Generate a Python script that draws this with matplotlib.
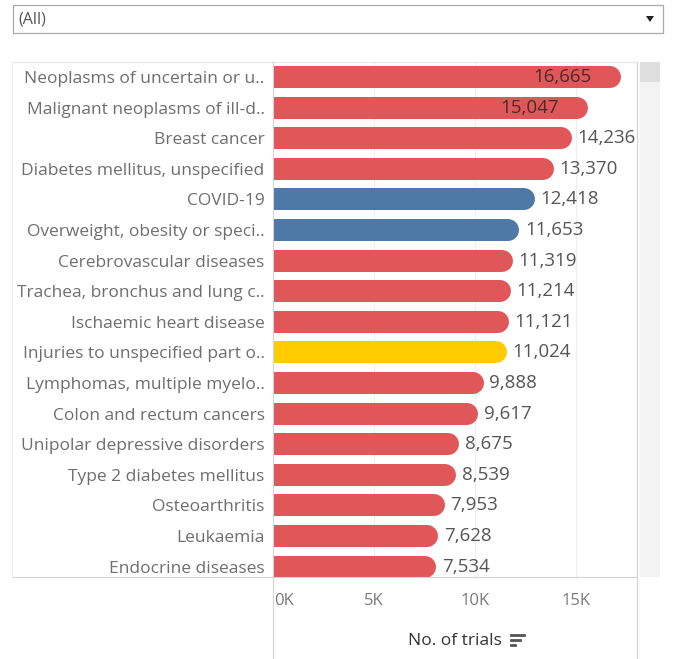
import matplotlib

matplotlib.use("Agg")
import matplotlib.pyplot as plt
from matplotlib.patches import Rectangle, Polygon
from matplotlib.lines import Line2D

W, H = 673, 659

diseases = [
    "Neoplasms of uncertain or u..",
    "Malignant neoplasms of ill-d..",
    "Breast cancer",
    "Diabetes mellitus, unspecified",
    "COVID-19",
    "Overweight, obesity or speci..",
    "Cerebrovascular diseases",
    "Trachea, bronchus and lung c..",
    "Ischaemic heart disease",
    "Injuries to unspecified part o..",
    "Lymphomas, multiple myelo..",
    "Colon and rectum cancers",
    "Unipolar depressive disorders",
    "Type 2 diabetes mellitus",
    "Osteoarthritis",
    "Leukaemia",
    "Endocrine diseases",
]
trials = [16665, 15047, 14236, 13370, 12418, 11653, 11319, 11214, 11121,
          11024, 9888, 9617, 8675, 8539, 7953, 7628, 7534]
groups = ["ncd", "ncd", "ncd", "ncd", "infect", "infect", "ncd", "ncd", "ncd",
          "injury", "ncd", "ncd", "ncd", "ncd", "ncd", "ncd", "ncd"]
ticks = [0, 5000, 10000, 15000]
tick_labels = ["0K", "5K", "10K", "15K"]

palette = {"ncd": "#e15759", "infect": "#4e79a7", "injury": "#ffcc00"}

plt.rcParams["font.family"] = ["Open Sans", "DejaVu Sans"]


def fx(x):
    return x / W


def fy(y):
    return 1 - y / H


fig = plt.figure(figsize=(W / 100, H / 100), dpi=100, facecolor="white")

# axes placed in pixel terms: x 273..637, y 62..577 (from top)
ax = fig.add_axes([fx(273), fy(577), (637 - 273) / W, (577 - 62) / H])
ax.set_xlim(0, 18020)
row_gap = 30.6
ax.set_ylim((577 - 77) / row_gap, -(77 - 62) / row_gap)

for x in ticks[1:]:
    ax.axvline(x, color="#eeeeee", lw=0.8, zorder=0)

bar_px = 22
lw_pt = bar_px * 72 / 100
for i, (v, g) in enumerate(zip(trials, groups)):
    ax.plot([0, v], [i, i], color=palette[g], lw=lw_pt, solid_capstyle="round",
            zorder=2)
    if v > 15000:
        ax.annotate(f"{v:,}", (v, i), xytext=(-13, 0), textcoords="offset points",
                    ha="right", va="center", fontsize=13.5, color="#4a2a2a", zorder=3)
    else:
        ax.annotate(f"{v:,}", (v, i), xytext=(12, 0), textcoords="offset points",
                    ha="left", va="center", fontsize=13.5, color="#555555", zorder=3)

ax.set_yticks(range(len(diseases)))
ax.set_yticklabels(diseases, fontsize=12.5, color="#6e6e6e")
ax.tick_params(axis="y", length=0, pad=6)
ax.set_xticks([])
for s in ax.spines.values():
    s.set_visible(False)

# tick labels below
for t, lab in zip(ticks, tick_labels):
    xp = 273 + t / 18020 * 364
    ha = "left" if t == 0 else "center"
    fig.text(fx(xp + (1 if t == 0 else 0)), fy(601), lab, ha=ha, va="center",
             fontsize=12, color="#7a7a7a")

fig.text(fx(455), fy(641), "No. of trials", ha="center", va="center",
         fontsize=12.5, color="#333333")
for k, ln in enumerate([13, 9, 4]):
    fig.add_artist(Line2D([fx(511), fx(511 + ln)], [fy(635 + 5 * k)] * 2,
                          color="#555555", lw=2))

# frame lines
line_c = "#d4d4d4"
fig.add_artist(Line2D([fx(12), fx(637)], [fy(62)] * 2, color="#e6e6e6", lw=0.8))
fig.add_artist(Line2D([fx(12), fx(637)], [fy(577)] * 2, color=line_c, lw=0.8))
fig.add_artist(Line2D([fx(12), fx(12)], [fy(62), fy(577)], color="#eeeeee", lw=0.8))
fig.add_artist(Line2D([fx(273), fx(273)], [fy(62), fy(659)], color=line_c, lw=0.8))
fig.add_artist(Line2D([fx(637), fx(637)], [fy(62), fy(659)], color=line_c, lw=0.8))

# scrollbar
fig.add_artist(Rectangle((fx(640), fy(577)), 20 / W, (577 - 62) / H,
                         facecolor="#f3f3f3", edgecolor="none"))
fig.add_artist(Rectangle((fx(640), fy(82)), 20 / W, 20 / H,
                         facecolor="#dedede", edgecolor="none"))

# dropdown filter
fig.add_artist(Rectangle((fx(13), fy(33)), (663 - 13) / W, 28 / H,
                         facecolor="white", edgecolor="#aaaaaa", lw=0.9))
fig.text(fx(18), fy(19), "(All)", ha="left", va="center", fontsize=11.5,
         color="#555555")
fig.add_artist(Polygon([(fx(646), fy(16)), (fx(654), fy(16)), (fx(650), fy(22))],
                       closed=True, facecolor="#222222", edgecolor="none"))

fig.savefig("out.png", dpi=100, facecolor="white")
